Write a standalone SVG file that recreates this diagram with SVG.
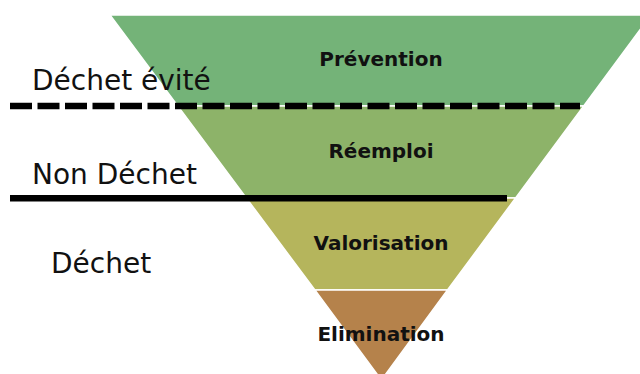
<svg xmlns="http://www.w3.org/2000/svg" width="640" height="374" viewBox="0 0 640 374">
<style>
.band{stroke:#ffffff;stroke-width:1.5;stroke-linejoin:miter}
.lbl{font-family:"DejaVu Sans","Verdana",sans-serif;font-weight:bold;font-size:20px;fill:#111;text-anchor:middle}
.side{font-family:"DejaVu Sans","Verdana",sans-serif;font-size:28px;fill:#111}
</style>
<rect width="640" height="374" fill="#ffffff"/>
<g id="prevention">
<polygon class="band" points="110,15 651,15 583.7,106 177.8,106" fill="#74b378"/>
<text class="lbl" x="381" y="66">Prévention</text>
</g>
<g id="reemploi">
<polygon class="band" points="177.8,106 583.7,106 515.6,198 246.3,198" fill="#8db369"/>
<text class="lbl" x="381" y="158">Réemploi</text>
</g>
<g id="valorisation">
<polygon class="band" points="246.3,198 515.6,198 447.5,290 314.9,290" fill="#b5b55c"/>
<text class="lbl" x="381" y="250">Valorisation</text>
</g>
<g id="elimination">
<polygon class="band" points="314.9,290 447.5,290 381.4,380" fill="#b5824b"/>
<text class="lbl" x="381" y="341">Elimination</text>
</g>
<g id="connectors">
<line x1="10" y1="106" x2="580" y2="106" stroke="#000" stroke-width="6.5" stroke-dasharray="22,5.5"/>
<line x1="10" y1="198.3" x2="507" y2="198.3" stroke="#000" stroke-width="6.5"/>
</g>
<g id="labels">
<text class="side" x="32" y="90">Déchet évité</text>
<text class="side" x="32" y="184">Non Déchet</text>
<text class="side" x="51" y="273">Déchet</text>
</g>
</svg>
